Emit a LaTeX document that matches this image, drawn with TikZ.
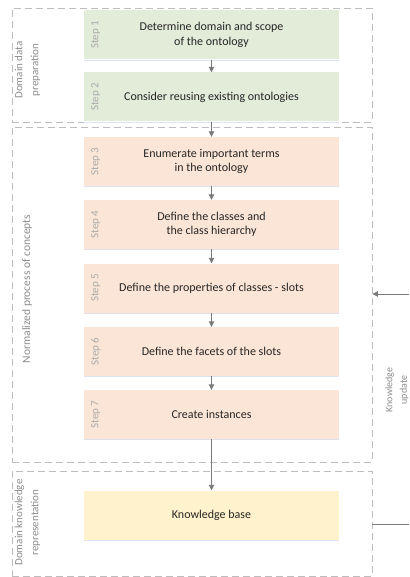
\documentclass[tikz,border=0pt]{standalone}
\usepackage{fontspec}
\setmainfont{Carlito}
\usetikzlibrary{arrows.meta}
\definecolor{prepfill}{HTML}{E3EBD9}
\definecolor{procfill}{HTML}{FBE5D6}
\definecolor{basefill}{HTML}{FFF2CC}
\definecolor{framegray}{HTML}{BDBDBD}
\definecolor{arrowgray}{HTML}{7A7A7A}
\definecolor{textdark}{HTML}{262626}
\definecolor{steptext}{HTML}{ABABAB}
\definecolor{grouptext}{HTML}{8C8C8C}
\definecolor{shadeline}{HTML}{DCE3EE}
\tikzset{
  stepbox/.style={draw=none, minimum width=255pt, minimum height=49pt,
    inner sep=0pt, align=center, text=textdark, font=\fontsize{12}{14.6}\selectfont},
  prep/.style={stepbox, fill=prepfill},
  proc/.style={stepbox, fill=procfill},
  kbase/.style={stepbox, fill=basefill},
  steplabel/.style={rotate=90, text=steptext, font=\fontsize{11}{13}\selectfont, inner sep=0pt},
  grouplabel/.style={rotate=90, text=grouptext, align=center,
    font=\fontsize{11}{16}\selectfont, inner sep=0pt},
  widelabel/.style={grouplabel, font=\fontsize{11.5}{16}\selectfont},
  sidelabel/.style={rotate=90, text=grouptext, align=center,
    font=\fontsize{10}{14.5}\selectfont, inner sep=0pt},
  groupframe/.style={draw=framegray, line width=0.9pt, dash pattern=on 7pt off 4pt,
    inner sep=0pt},
  flow/.style={draw=arrowgray, line width=0.9pt,
    -{Triangle[length=5.5pt,width=5.5pt]}},
  plainline/.style={draw=arrowgray, line width=0.9pt},
  boxshade/.style={draw=shadeline, line width=1.2pt}
}
\begin{document}
\begin{tikzpicture}[x=1pt, y=-1pt]
  \useasboundingbox (0,0) rectangle (409,577);

  % phase frames
  \node[groupframe, minimum width=360pt, minimum height=114pt] (g1) at (192,65) {};
  \node[groupframe, minimum width=360pt, minimum height=335pt] (g2) at (192,294.5) {};
  \node[groupframe, minimum width=360pt, minimum height=105pt] (g3) at (192,523.5) {};

  % phase titles
  \node[grouplabel] (t1) at (27.5,70) {Domain data\\preparation};
  \node[widelabel] (t2) at (27,289) {Normalized process of concepts};
  \node[grouplabel] (t3) at (27.5,522.5) {Domain knowledge\\representation};

  % steps
  \node[prep] (s1) at (211.5,35) {Determine domain and scope\\of the ontology};
  \node[prep] (s2) at (211.5,97) {Consider reusing existing ontologies};
  \node[proc] (s3) at (211.5,161.5) {Enumerate important terms\\in the ontology};
  \node[proc] (s4) at (211.5,224.5) {Define the classes and\\the class hierarchy};
  \node[proc] (s5) at (211.5,288) {Define the properties of classes - slots};
  \node[proc] (s6) at (211.5,351.5) {Define the facets of the slots};
  \node[proc] (s7) at (211.5,414.5) {Create instances};
  \node[kbase] (kb) at (211.5,515) {Knowledge base};

  % soft bottom edge under each box
  \foreach \b in {s1,s2,s3,s4,s5,s6,s7,kb}
    \draw[boxshade] ([yshift=-0.6pt]\b.south west) -- ([yshift=-0.6pt]\b.south east);

  % step numbers
  \foreach \b/\n in {s1/1,s2/2,s3/3,s4/4,s5/5,s6/6,s7/7}
    \node[steplabel] (n\n) at ([xshift=12pt]\b.west) {Step \n};

  % flow between steps
  \draw[flow] (s1) -- (s2);
  \draw[flow] (s2) -- (s3);
  \draw[flow] (s3) -- (s4);
  \draw[flow] (s4) -- (s5);
  \draw[flow] (s5) -- (s6);
  \draw[flow] (s6) -- (s7);
  \draw[flow] (s7) -- (kb);

  % knowledge update loop on the right
  \coordinate (loopin) at (409,294);
  \coordinate (loopout) at (409,524);
  \draw[flow] (loopin) -- (loopin -| g2.east);
  \draw[plainline] (loopout -| g3.east) -- (loopout);
  \node[sidelabel] (upd) at (397,390) {Knowledge\\update};
\end{tikzpicture}
\end{document}
